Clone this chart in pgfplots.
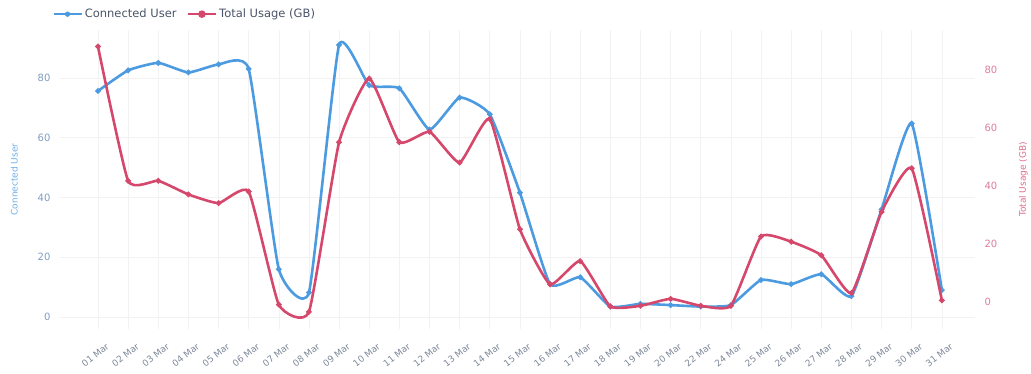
\documentclass[border=0pt]{standalone}
\usepackage{pgfplots}
\pgfplotsset{compat=1.18}
\usepackage{pgfplotstable}
\usepackage{fontspec}
\setmainfont{DejaVu Sans}
\definecolor{cu}{HTML}{4C9BE0}
\definecolor{tu}{HTML}{D5486C}
\definecolor{cutick}{HTML}{7F9CC0}
\definecolor{tutick}{HTML}{DE7D98}
\definecolor{legtext}{HTML}{4A5468}
\definecolor{xtick}{HTML}{7E8899}

\pgfplotstableread{
idx blue red
0 75.6 88
1 82.5 41.7
2 85 41.7
3 81.8 37
4 84.5 34
5 83 38
6 16 -1
7 8.2 -3.5
8 91 55
9 77.5 77
10 76.5 55
11 62.7 58.6
12 73.4 48
13 67.8 63
14 41.6 25
15 11 6
16 13.3 14
17 3.5 -1.6
18 4.4 -1.4
19 4 1
20 3.5 -1.4
21 4 -1.4
22 12.4 22.5
23 11 20.7
24 14.3 16
25 7 3
26 36 31
27 64.7 46
28 9 0.5
}\datatable

\begin{document}
\begin{tikzpicture}
\path[use as bounding box] (-60pt,-45pt) rectangle (971pt,329pt);
\pgfplotsset{
  common/.style={
    scale only axis, width=915pt, height=299pt,
    at={(0pt,0pt)}, anchor=south west,
    xmin=-1.26, xmax=29.1,
    axis line style={draw=none},
    tick style={draw=none},
    /pgf/number format/assume math mode=true,
  }
}
\begin{axis}[common,
  ymin=-4, ymax=96,
  ytick={0,20,40,60,80},
  xtick={0,...,28},
  xticklabels={01 Mar,02 Mar,03 Mar,04 Mar,05 Mar,06 Mar,07 Mar,08 Mar,09 Mar,10 Mar,11 Mar,12 Mar,13 Mar,14 Mar,15 Mar,16 Mar,17 Mar,18 Mar,19 Mar,20 Mar,22 Mar,24 Mar,25 Mar,26 Mar,27 Mar,28 Mar,29 Mar,30 Mar,31 Mar},
  xticklabel style={rotate=38, anchor=north east, font=\fontsize{9}{10}\selectfont, text=xtick, xshift=1pt, yshift=-12pt},
  yticklabel style={font=\fontsize{10}{12}\selectfont, text=cutick, xshift=-6pt},
  xmajorgrids, ymajorgrids,
  major grid style={draw=gray!10, line width=0.6pt},
  ylabel={Connected User},
  ylabel style={at={(axis description cs:-0.050,0.5)}, anchor=center, rotate=0, font=\fontsize{9}{11}\selectfont, text=cu!80},
]
\addplot[cu, line width=2.6pt, smooth, tension=0.28, mark=*, mark size=1.3pt] table[x=idx, y=blue] {\datatable};
\end{axis}
\begin{axis}[common,
  ymin=-9.4, ymax=93.7,
  axis x line=none,
  axis y line*=right,
  ytick={0,20,40,60,80},
  yticklabel pos=right,
  yticklabel style={font=\fontsize{10}{12}\selectfont, text=tutick, xshift=6pt},
  ylabel={Total Usage (GB)},
  ylabel style={at={(axis description cs:1.053,0.5)}, anchor=center, rotate=0, font=\fontsize{9}{11}\selectfont, text=tu!80},
  legend style={at={(axis description cs:-0.012,1.053)}, anchor=west, draw=none, fill=none, legend columns=2, font=\fontsize{11.5}{13}\selectfont, text=legtext, /tikz/every even column/.append style={column sep=8pt}},
  legend image code/.code={\draw[#1, line width=2.6pt] (0pt,0pt) -- (28pt,0pt); \fill[#1] (14pt,0pt) circle (2.4pt);},
]
\addlegendimage{cu}
\addlegendentry{Connected User}
\addplot[tu, line width=2.6pt, smooth, tension=0.28, mark=*, mark size=1.3pt] table[x=idx, y=red] {\datatable};
\addlegendentry{Total Usage (GB)}
\end{axis}
\end{tikzpicture}
\end{document}
